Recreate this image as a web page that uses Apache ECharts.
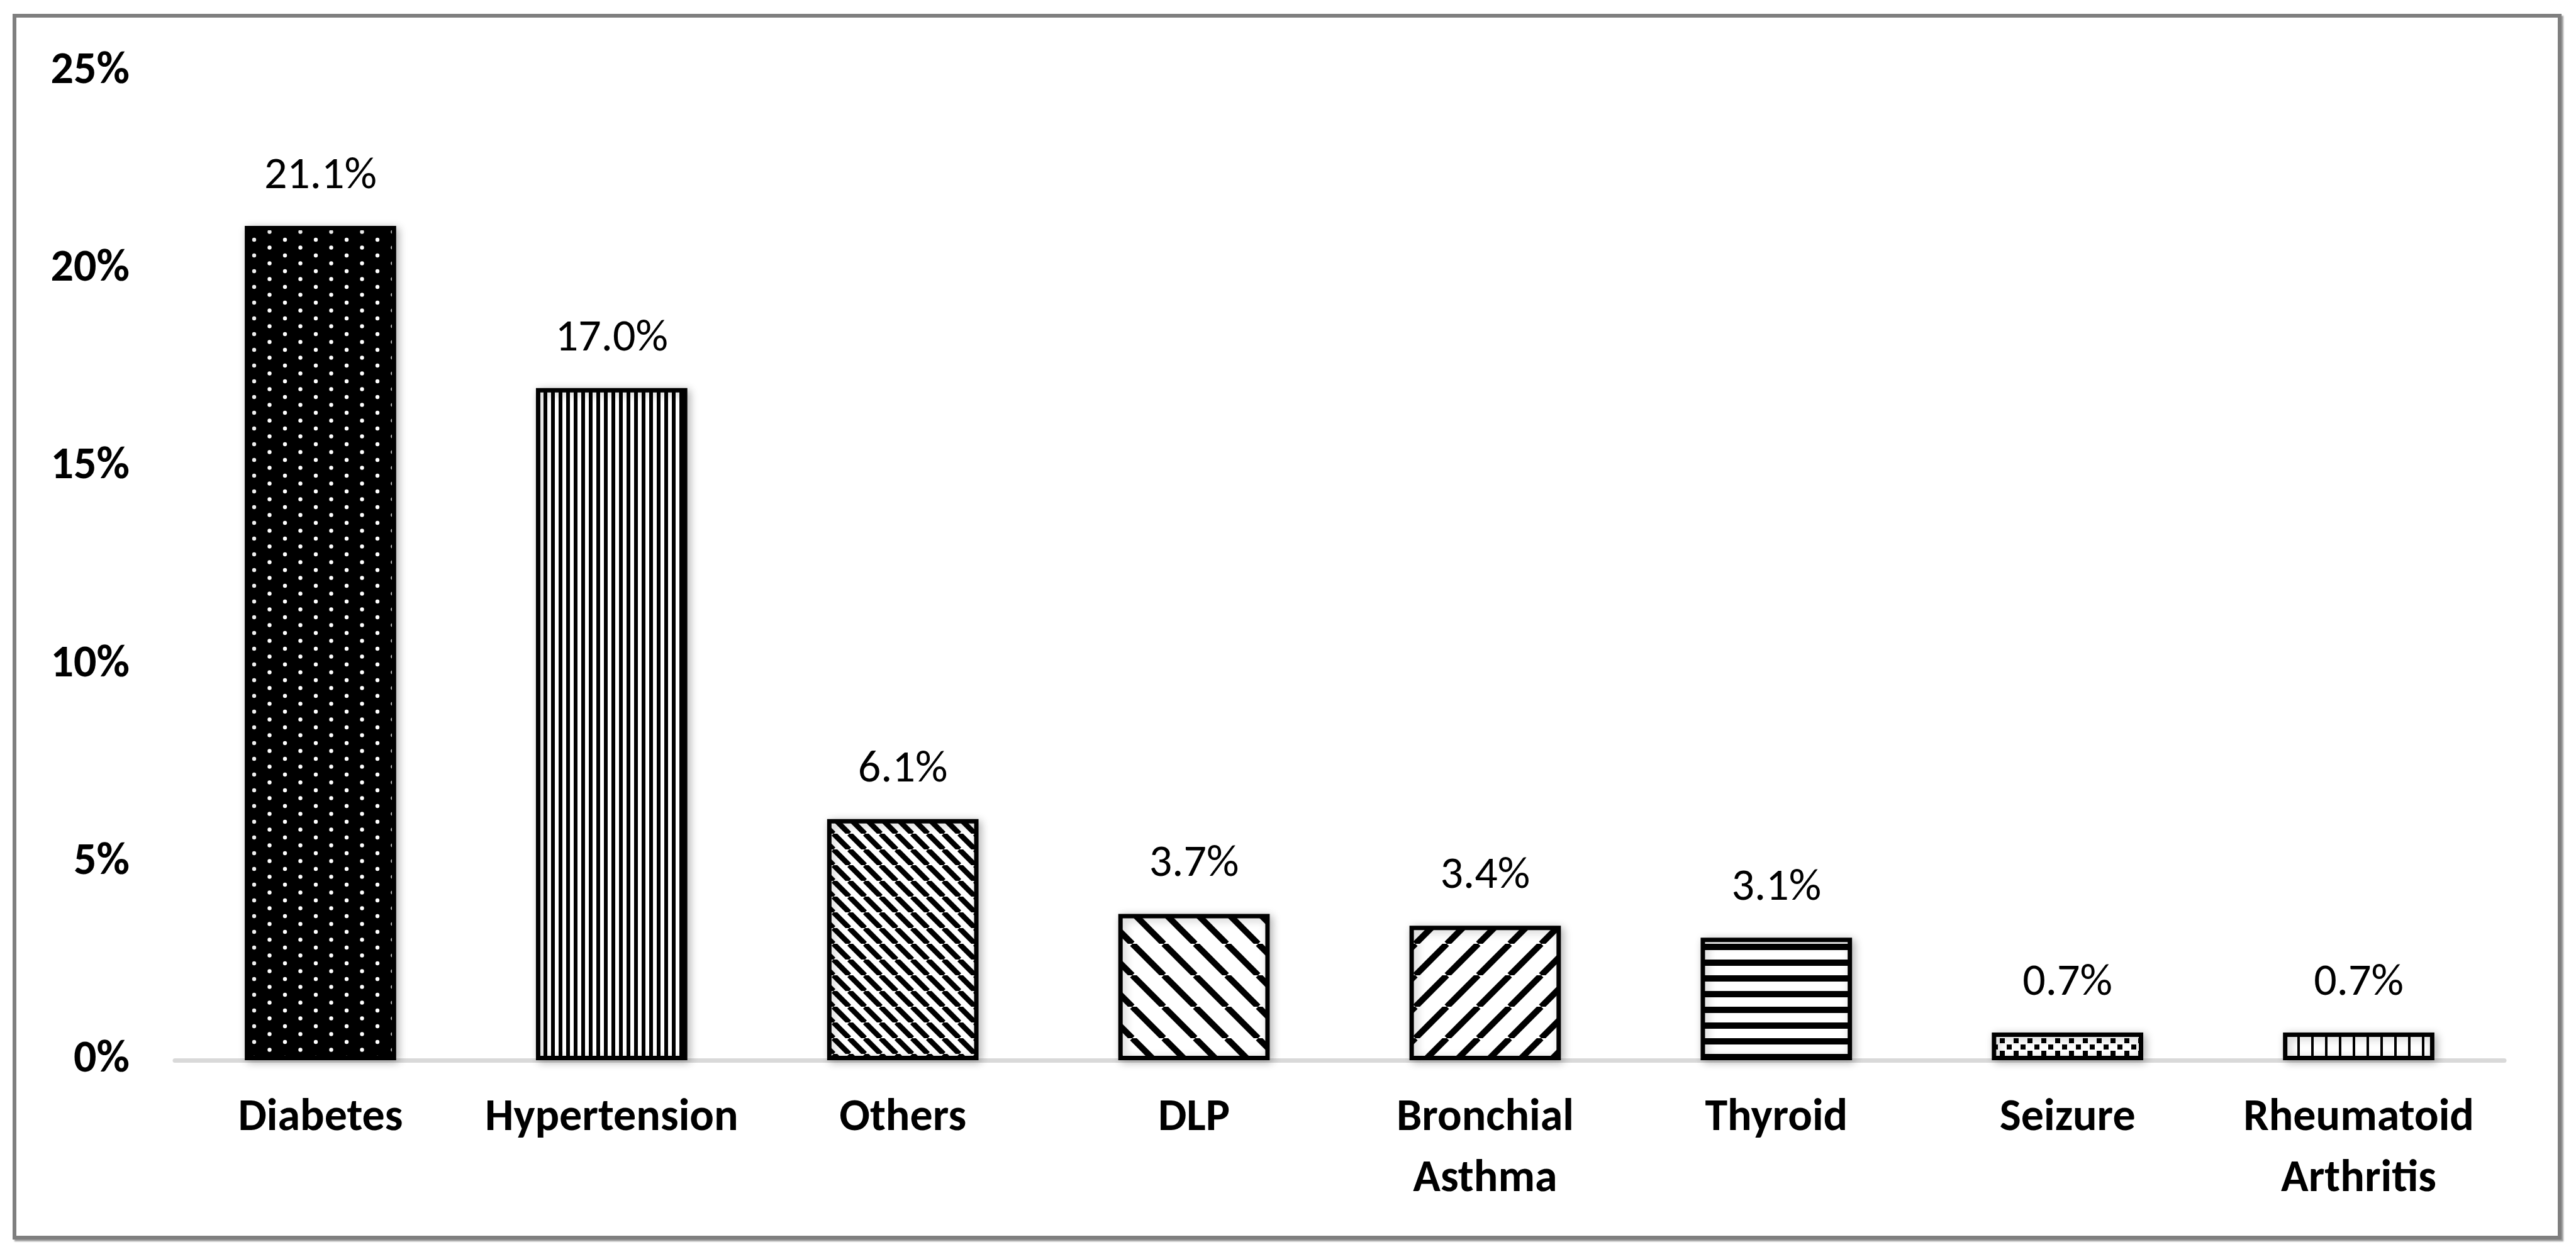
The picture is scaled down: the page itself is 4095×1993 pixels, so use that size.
<!DOCTYPE html>
<html lang="en">
<head>
    <meta charset="utf-8" />
    <title>Comorbidities</title>
    <script type="text/javascript" src="https://cdn.jsdelivr.net/npm/echarts@6/dist/echarts.min.js"></script>
    <style>
        html, body {
            margin: 0;
            background: #FFFFFF;
        }
        #chart {
            width: 4095px;
            height: 1993px;
        }
        #frame {
            position: absolute;
            left: 20px;
            top: 22px;
            width: 4040px;
            height: 1936px;
            border: 6px solid #7f7f7f;
            box-shadow: 3px 3px 2px #a0a0a0;
            pointer-events: none;
        }
    </style>
</head>
<body>
<div id="chart"></div>
<div id="frame"></div>
<script>
var categories = ['Diabetes', 'Hypertension', 'Others', 'DLP', 'Bronchial\nAsthma', 'Thyroid', 'Seizure', 'Rheumatoid\nArthritis']
var values = [21.1, 17.0, 6.1, 3.7, 3.4, 3.1, 0.7, 0.7]

function tile(w, h, draw) {
    var c = document.createElement('canvas')
    c.width = w
    c.height = h
    var ctx = c.getContext('2d')
    ctx.fillStyle = '#fff'
    ctx.fillRect(0, 0, w, h)
    ctx.fillStyle = '#000'
    ctx.strokeStyle = '#000'
    draw(ctx, w, h)
    return {image: c, repeat: 'repeat'}
}

function diagonal(p, lw, back) {
    return tile(p, p, function (ctx) {
        ctx.lineWidth = lw
        for (var k = -1; k <= 1; k++) {
            ctx.beginPath()
            if (back) {
                ctx.moveTo(k * p, 0)
                ctx.lineTo(k * p + p, p)
            } else {
                ctx.moveTo(k * p, p)
                ctx.lineTo(k * p + p, 0)
            }
            ctx.stroke()
        }
    })
}

// one fill pattern per bar, same order as categories
var patterns = [
    tile(49, 25, function (ctx, w, h) {
        ctx.fillRect(0, 0, w, h)
        ctx.fillStyle = '#fff'
        ctx.beginPath(); ctx.arc(12, 6, 3.2, 0, Math.PI * 2); ctx.fill()
        ctx.beginPath(); ctx.arc(36.5, 18.5, 3.2, 0, Math.PI * 2); ctx.fill()
    }),
    tile(12, 4, function (ctx) {
        ctx.fillRect(0, 0, 6, 4)
    }),
    diagonal(25, 8.5, true),
    diagonal(50, 10, true),
    diagonal(50, 10, false),
    tile(4, 25, function (ctx) {
        ctx.fillRect(0, 0, 4, 10)
    }),
    tile(22, 20, function (ctx) {
        ctx.fillRect(0, 0, 8, 8)
        ctx.fillRect(11, 10, 8, 8)
    }),
    tile(22, 4, function (ctx) {
        ctx.fillRect(0, 0, 4, 4)
    })
]

var font = 'Carlito, Lato, "Open Sans", sans-serif'

var chart = echarts.init(document.getElementById('chart'))
chart.setOption({
    animation: false,
    backgroundColor: '#fff',
    grid: {left: 278, right: 114, top: 114, bottom: 308},
    xAxis: {
        type: 'category',
        data: categories,
        axisLine: {lineStyle: {color: '#d9d9d9', width: 7}},
        axisTick: {show: false},
        axisLabel: {
            interval: 0,
            margin: 44,
            color: '#000',
            fontFamily: font,
            fontWeight: 'bold',
            fontSize: 72,
            lineHeight: 97
        }
    },
    yAxis: {
        type: 'value',
        min: 0,
        max: 25,
        interval: 5,
        splitLine: {show: false},
        axisLine: {show: false},
        axisTick: {show: false},
        axisLabel: {
            margin: 72,
            formatter: '{value}%',
            color: '#000',
            fontFamily: font,
            fontWeight: 'bold',
            fontSize: 72
        }
    },
    series: [{
        type: 'bar',
        barCategoryGap: '48%',
        data: values.map(function (v, i) {
            return {value: v, itemStyle: {color: patterns[i]}}
        }),
        itemStyle: {
            borderColor: '#000',
            borderWidth: 7,
            shadowBlur: 14,
            shadowColor: 'rgba(0,0,0,0.25)',
            shadowOffsetX: 4,
            shadowOffsetY: 3
        },
        label: {
            show: true,
            position: 'top',
            distance: 40,
            formatter: function (p) { return p.value.toFixed(1) + '%' },
            color: '#000',
            fontFamily: font,
            fontSize: 72,
            lineHeight: 76
        }
    }]
})
</script>
</body>
</html>
